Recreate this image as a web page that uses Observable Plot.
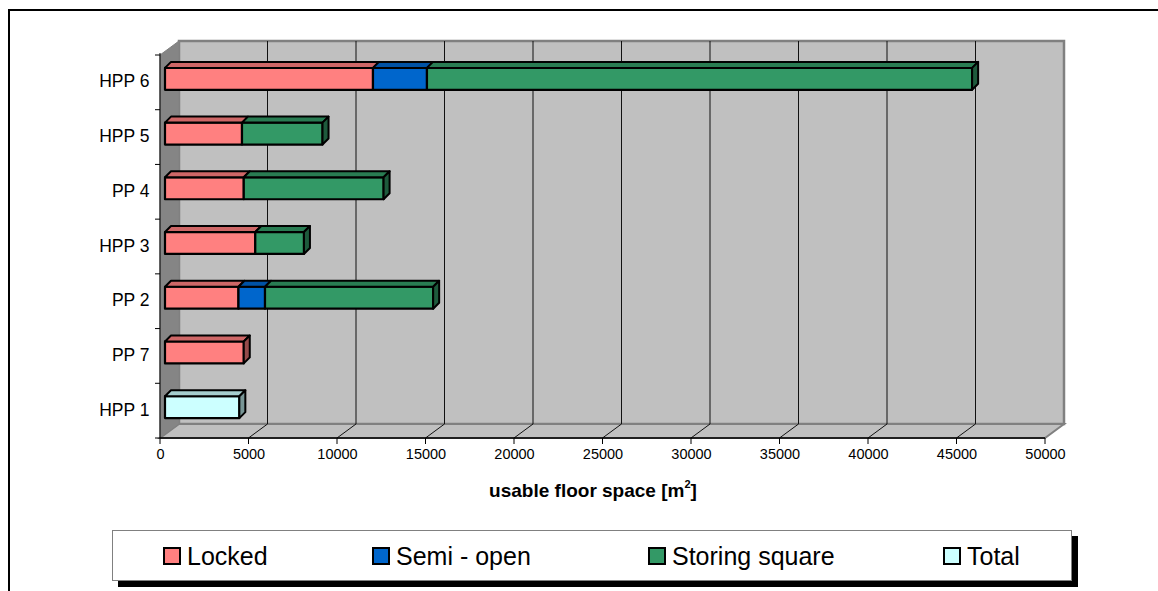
<!DOCTYPE html>
<html>
<head>
<meta charset="utf-8">
<script src="https://cdn.jsdelivr.net/npm/d3@7"></script>
<script src="https://cdn.jsdelivr.net/npm/@observablehq/plot@0.6"></script>
<style>
  html, body { margin: 0; padding: 0; background: #fff; overflow: hidden; }
  body { font-family: "Liberation Sans", Arial, sans-serif; }
  #wrap { position: relative; width: 1158px; height: 591px; overflow: hidden; }
  #chart { position: absolute; left: 0; top: 0; }
  #frame { position: absolute; left: 8px; top: 9px; width: 1200px; height: 700px;
           border-top: 2px solid #000; border-left: 2px solid #000; pointer-events: none; }
  #xtitle { position: absolute; left: 393px; width: 400px; top: 474px; text-align: center;
            font-weight: bold; font-size: 19px; line-height: 24px; color: #000; }
  #xtitle sup { font-size: 11px; position: relative; top: -2px; }
  #legend { position: absolute; left: 112px; top: 530px; width: 958px; height: 49px;
            border: 1px solid #808080; background: #fff; box-shadow: 6px 6px 0 0 #000; }
  .item { position: absolute; top: 12px; height: 26px; display: flex; align-items: center;
          font-size: 25px; color: #000; white-space: nowrap; }
  .sw { width: 14px; height: 14px; border: 2px solid #000; margin-right: 6px; }
</style>
</head>
<body>
<div id="wrap">
  <div id="chart"></div>
  <div id="frame"></div>
  <div id="xtitle">usable floor space [m<sup>2</sup>]</div>
  <div id="legend"></div>
</div>
<script>
// ---------------- data ----------------
const categories = ["HPP 6", "HPP 5", "PP 4", "HPP 3", "PP 2", "PP 7", "HPP 1"];
const seriesNames = ["Locked", "Semi - open", "Storing square", "Total"];
const seriesColors = ["#FF8080", "#0066CC", "#339966", "#CCFFFF"];
const locked  = [11750, 4350, 4450, 5100, 4150, 4450, 0];
const semiOpen = [3050, 0, 0, 0, 1500, 0, 0];
const storing = [30800, 4550, 7900, 2750, 9500, 0, 0];
const total   = [0, 0, 0, 0, 0, 0, 4200];
const xTicks = [0, 5000, 10000, 15000, 20000, 25000, 30000, 35000, 40000, 45000, 50000];
const xLabel = "usable floor space [m²]";

// ---------------- build stacked rows ----------------
const seriesValues = [locked, semiOpen, storing, total];
const rows = [];
categories.forEach((cat, i) => {
  let acc = 0;
  const segs = [];
  seriesValues.forEach((vals, s) => {
    const v = vals[i];
    if (v > 0) {
      segs.push({cat, series: seriesNames[s], color: seriesColors[s], x1: acc, x2: acc + v});
      acc += v;
    }
  });
  if (segs.length) segs[segs.length - 1].last = true;
  rows.push(...segs);
});

// 3D styling constants (pixels)
const WALL_DX = 19, WALL_DY = 14;   // depth of the chart box
const BAR_DX = 5;                   // bar front offset
const BAR_D = 6;                    // bar depth
const INSET_TOP = 12.9, INSET_BOTTOM = 19.9;

function chrome(index, scales) {
  const x = scales.x, y = scales.y;
  const [xa, xb] = x.range();
  const [ya, yb] = y.range();
  const g = d3.create("svg:g");
  // back wall
  g.append("rect").attr("x", xa + WALL_DX).attr("y", ya - WALL_DY)
    .attr("width", xb - xa).attr("height", yb - ya)
    .attr("fill", "#C0C0C0").attr("stroke", "#808080").attr("stroke-width", 2.5);
  // floor
  g.append("path").attr("d", `M${xa},${yb}L${xb},${yb}L${xb + WALL_DX},${yb - WALL_DY}L${xa + WALL_DX},${yb - WALL_DY}Z`)
    .attr("fill", "#C0C0C0").attr("stroke", "#808080").attr("stroke-width", 2);
  // gridlines on back wall & floor
  xTicks.forEach((t, k) => {
    const px = x(t);
    if (k > 0 && k < xTicks.length - 1) {
      g.append("line").attr("x1", px + WALL_DX).attr("x2", px + WALL_DX)
        .attr("y1", ya - WALL_DY).attr("y2", yb - WALL_DY).attr("stroke", "#111").attr("stroke-width", 1);
      g.append("line").attr("x1", px).attr("y1", yb).attr("x2", px + WALL_DX).attr("y2", yb - WALL_DY)
        .attr("stroke", "#111").attr("stroke-width", 1);
    }
  });
  // left wall
  g.append("path").attr("d", `M${xa},${ya}L${xa + WALL_DX},${ya - WALL_DY}L${xa + WALL_DX},${yb - WALL_DY}L${xa},${yb}Z`)
    .attr("fill", "#858585").attr("stroke", "#808080").attr("stroke-width", 1);
  // front x axis
  g.append("line").attr("x1", xa).attr("x2", xb).attr("y1", yb).attr("y2", yb).attr("stroke", "#000").attr("stroke-width", 1.5);
  xTicks.forEach(t => {
    g.append("line").attr("x1", x(t)).attr("x2", x(t)).attr("y1", yb).attr("y2", yb + 6).attr("stroke", "#000").attr("stroke-width", 1);
  });
  // left y axis
  g.append("line").attr("x1", xa).attr("x2", xa).attr("y1", ya - 2).attr("y2", yb).attr("stroke", "#000").attr("stroke-width", 1);
  const bounds = categories.map(c => y(c)).concat([yb]);
  bounds.forEach(b => {
    g.append("line").attr("x1", xa - 5).attr("x2", xa).attr("y1", b).attr("y2", b).attr("stroke", "#000").attr("stroke-width", 1);
  });
  return g.node();
}

function faces(index, scales) {
  const x = scales.x, y = scales.y;
  const bw = y.bandwidth ? y.bandwidth() : (y.range()[1] - y.range()[0]) / categories.length;
  const g = d3.create("svg:g");
  for (const r of rows) {
    const top = y(r.cat) + INSET_TOP;
    const bot = y(r.cat) + bw - INSET_BOTTOM;
    const a = x(r.x1) + BAR_DX, b = x(r.x2) + BAR_DX;
    const c = d3.color(r.color);
    g.append("path")
      .attr("d", `M${a},${top}L${b},${top}L${b + BAR_D},${top - BAR_D}L${a + BAR_D},${top - BAR_D}Z`)
      .attr("fill", c.darker(0.6).formatHex()).attr("stroke", "#000").attr("stroke-width", 2).attr("stroke-linejoin", "round");
    if (r.last) {
      g.append("path")
        .attr("d", `M${b},${top}L${b + BAR_D},${top - BAR_D}L${b + BAR_D},${bot - BAR_D}L${b},${bot}Z`)
        .attr("fill", c.darker(1.5).formatHex()).attr("stroke", "#000").attr("stroke-width", 2).attr("stroke-linejoin", "round");
    }
  }
  return g.node();
}

const plot = Plot.plot({
  width: 1158,
  height: 475,
  marginLeft: 160,
  marginRight: 113,
  marginTop: 55,
  marginBottom: 37,
  style: { background: "transparent", fontFamily: "'Liberation Sans', Arial, sans-serif", color: "#000" },
  x: { domain: [0, 50000], axis: null },
  y: { type: "band", domain: categories, padding: 0, round: false, axis: null },
  color: { domain: seriesNames, range: seriesColors },
  marks: [
    chrome,
    Plot.barX(rows, {
      x1: "x1", x2: "x2", y: "cat", fill: "series",
      stroke: "#000", strokeWidth: 2.2, strokeLinejoin: "round",
      insetTop: INSET_TOP, insetBottom: INSET_BOTTOM, dx: BAR_DX
    }),
    faces,
    Plot.text(xTicks, { x: d => d, frameAnchor: "bottom", dy: 20, text: d => String(d), fontSize: 14.5, fill: "#000" }),
    Plot.text(categories, { y: d => d, frameAnchor: "left", dx: -11, dy: -1, textAnchor: "end", text: d => d, fontSize: 17.5, fill: "#000" })
  ]
});
document.getElementById("chart").appendChild(plot);

// legend
const legend = document.getElementById("legend");
const legendLeft = [50, 259, 535, 830];
seriesNames.forEach((name, i) => {
  const it = document.createElement("div");
  it.className = "item";
  it.style.left = legendLeft[i] + "px";
  const sw = document.createElement("span");
  sw.className = "sw";
  sw.style.background = seriesColors[i];
  it.appendChild(sw);
  it.appendChild(document.createTextNode(name));
  legend.appendChild(it);
});
</script>
</body>
</html>
